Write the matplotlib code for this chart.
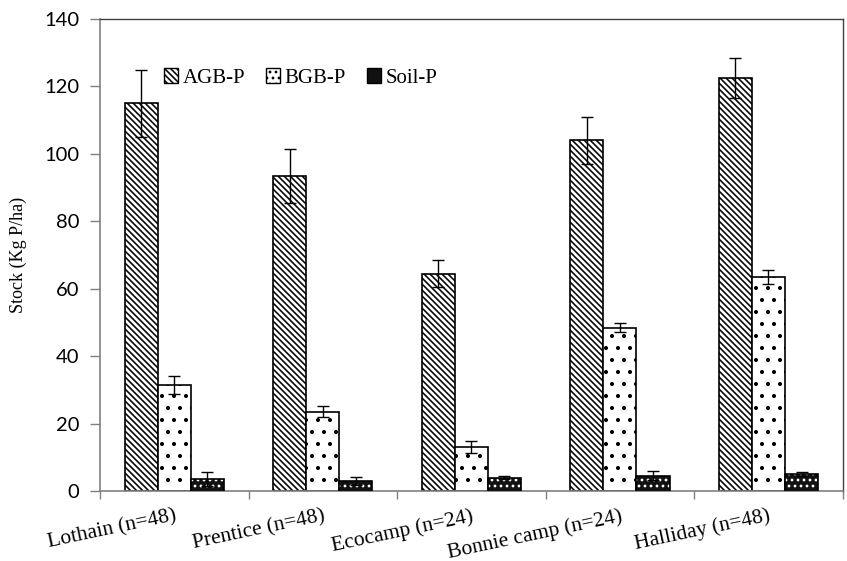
import numpy as np
import matplotlib.pyplot as plt
from matplotlib.patches import Patch

# values
sites = ['Lothain (n=48)', 'Prentice (n=48)', 'Ecocamp (n=24)', 'Bonnie camp (n=24)', 'Halliday (n=48)']
agb = [115.0, 93.5, 64.5, 104.0, 122.5]
agb_err = [10.0, 8.0, 4.0, 7.0, 6.0]
bgb = [31.5, 23.5, 13.0, 48.5, 63.5]
bgb_err = [2.7, 1.6, 1.8, 1.2, 2.0]
soil = [3.5, 3.0, 4.0, 4.5, 5.0]
soil_err = [2.0, 1.2, 0.5, 1.3, 0.5]

# figure is drawn at 72 dpi so the hatch cell is smaller; S keeps the
# text and line sizes as they would look at 100 dpi
DPI = 72
S = 100 / DPI

plt.rcParams['hatch.linewidth'] = 1.6

fig = plt.figure(figsize=(847 / DPI, 561 / DPI), dpi=DPI)
ax = fig.add_axes([0.118, 0.1248, 0.877, 0.8412])

x = np.arange(len(sites))
w = 0.223
ekw = dict(ecolor='black', elinewidth=1 * S, capsize=4 * S, capthick=1 * S, zorder=4)
agb_hatch = '\\\\\\\\'

ax.bar(x - w, agb, w, color='white', edgecolor='black', hatch=agb_hatch,
       linewidth=1.2 * S, yerr=agb_err, error_kw=ekw, zorder=2)
ax.bar(x, bgb, w, color='white', edgecolor='black', hatch='.',
       linewidth=1.2 * S, yerr=bgb_err, error_kw=ekw, zorder=2)
# soil: black fill with white dots, then a black outline on top
ax.bar(x + w, soil, w, color='#111111', edgecolor='white', hatch='..',
       linewidth=0, zorder=2)
ax.bar(x + w, soil, w, fill=False, edgecolor='black', linewidth=1.2 * S, zorder=3,
       yerr=soil_err, error_kw=ekw)

ax.set_xlim(-0.5, len(sites) - 0.5)
ax.set_ylim(0, 140)
ax.set_yticks(np.arange(0, 141, 20))
ax.tick_params(axis='y', labelsize=14.5 * S, length=7 * S, width=S,
               color='#808080', pad=8 * S)
for t in ax.get_yticklabels():
    t.set_family('Lato')

ax.set_xticks(x)
ax.set_xticks(np.arange(-0.5, len(sites), 1), minor=True)
ax.tick_params(axis='x', which='major', length=0, pad=11 * S)
ax.tick_params(axis='x', which='minor', length=6 * S, width=S, color='#808080')
ax.set_xticklabels(sites, rotation=12, ha='right', rotation_mode='anchor',
                   family='Liberation Serif', fontsize=15.5 * S)

for s in ['left', 'bottom']:
    ax.spines[s].set_color('#808080')
    ax.spines[s].set_linewidth(1.2 * S)
for s in ['top', 'right']:
    ax.spines[s].set_color('#404040')
    ax.spines[s].set_linewidth(1.0 * S)

ax.set_ylabel('Stock (Kg P/ha)', family='Liberation Serif', fontsize=13 * S,
              labelpad=12 * S)

handles = [
    Patch(facecolor='white', edgecolor='black', hatch=agb_hatch, linewidth=S),
    Patch(facecolor='white', edgecolor='black', hatch='..', linewidth=S),
    Patch(facecolor='#111111', edgecolor='black', linewidth=S),
]
ax.legend(handles, ['AGB-P', 'BGB-P', 'Soil-P'], loc='center',
          bbox_to_anchor=(0.27, 0.875), ncol=3, frameon=False,
          prop={'family': 'Liberation Serif', 'size': 15 * S},
          handlelength=0.7, handleheight=0.7, handletextpad=0.2, columnspacing=1.0)

fig.savefig('out.png', dpi=DPI)
